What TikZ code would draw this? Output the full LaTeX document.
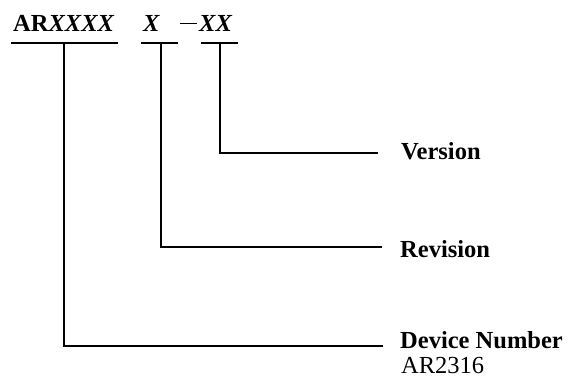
\documentclass[tikz,border=0pt]{standalone}
\usepackage{fontspec}
\setmainfont{Liberation Serif}
\begin{document}
\begin{tikzpicture}[x=1pt,y=-1pt,
  lbl/.style={anchor=base west,inner sep=0pt,font=\fontsize{24.5}{28}\selectfont\bfseries},
  plain/.style={anchor=base west,inner sep=0pt,font=\fontsize{24.5}{28}\selectfont},
  wire/.style={line width=1.7pt,line cap=butt,line join=miter}]
\useasboundingbox (0,0) rectangle (568,385);
% top code
\node[lbl] (code) at (13,31.7) {AR\textit{XXXX}};
\node[lbl] (rev) at (143,31.7) {\textit{X}};
\node[plain] (dash) at (180,31.7) {\rule[7.2pt]{17pt}{1.5pt}};
\node[lbl] (ver) at (199,31.7) {\textit{XX}};
% underlines
\coordinate (u1a) at (11,43); \coordinate (u1b) at (118,43);
\coordinate (u2a) at (141,43); \coordinate (u2b) at (178,43);
\coordinate (u3a) at (201,43); \coordinate (u3b) at (238,43);
\draw[wire] (u1a) -- (u1b);
\draw[wire] (u2a) -- (u2b);
\draw[wire] (u3a) -- (u3b);
% labels
\node[lbl] (lver) at (401,159.3) {Version};
\node[lbl] (lrev) at (400,257) {Revision};
\node[lbl] (ldev) at (400,348.3) {Device Number};
\node[plain] (lpart) at (401,373.3) {AR2316};
% connectors
\coordinate (t1) at (64,43); \coordinate (c1) at (64,346); \coordinate (e1) at (383,346);
\coordinate (t2) at (161,43); \coordinate (c2) at (161,247.3); \coordinate (e2) at (382,247.3);
\coordinate (t3) at (220,43); \coordinate (c3) at (220,152.7); \coordinate (e3) at (378,152.7);
\draw[wire] (t1) -- (c1) -- (e1);
\draw[wire] (t2) -- (c2) -- (e2);
\draw[wire] (t3) -- (c3) -- (e3);
\end{tikzpicture}
\end{document}
